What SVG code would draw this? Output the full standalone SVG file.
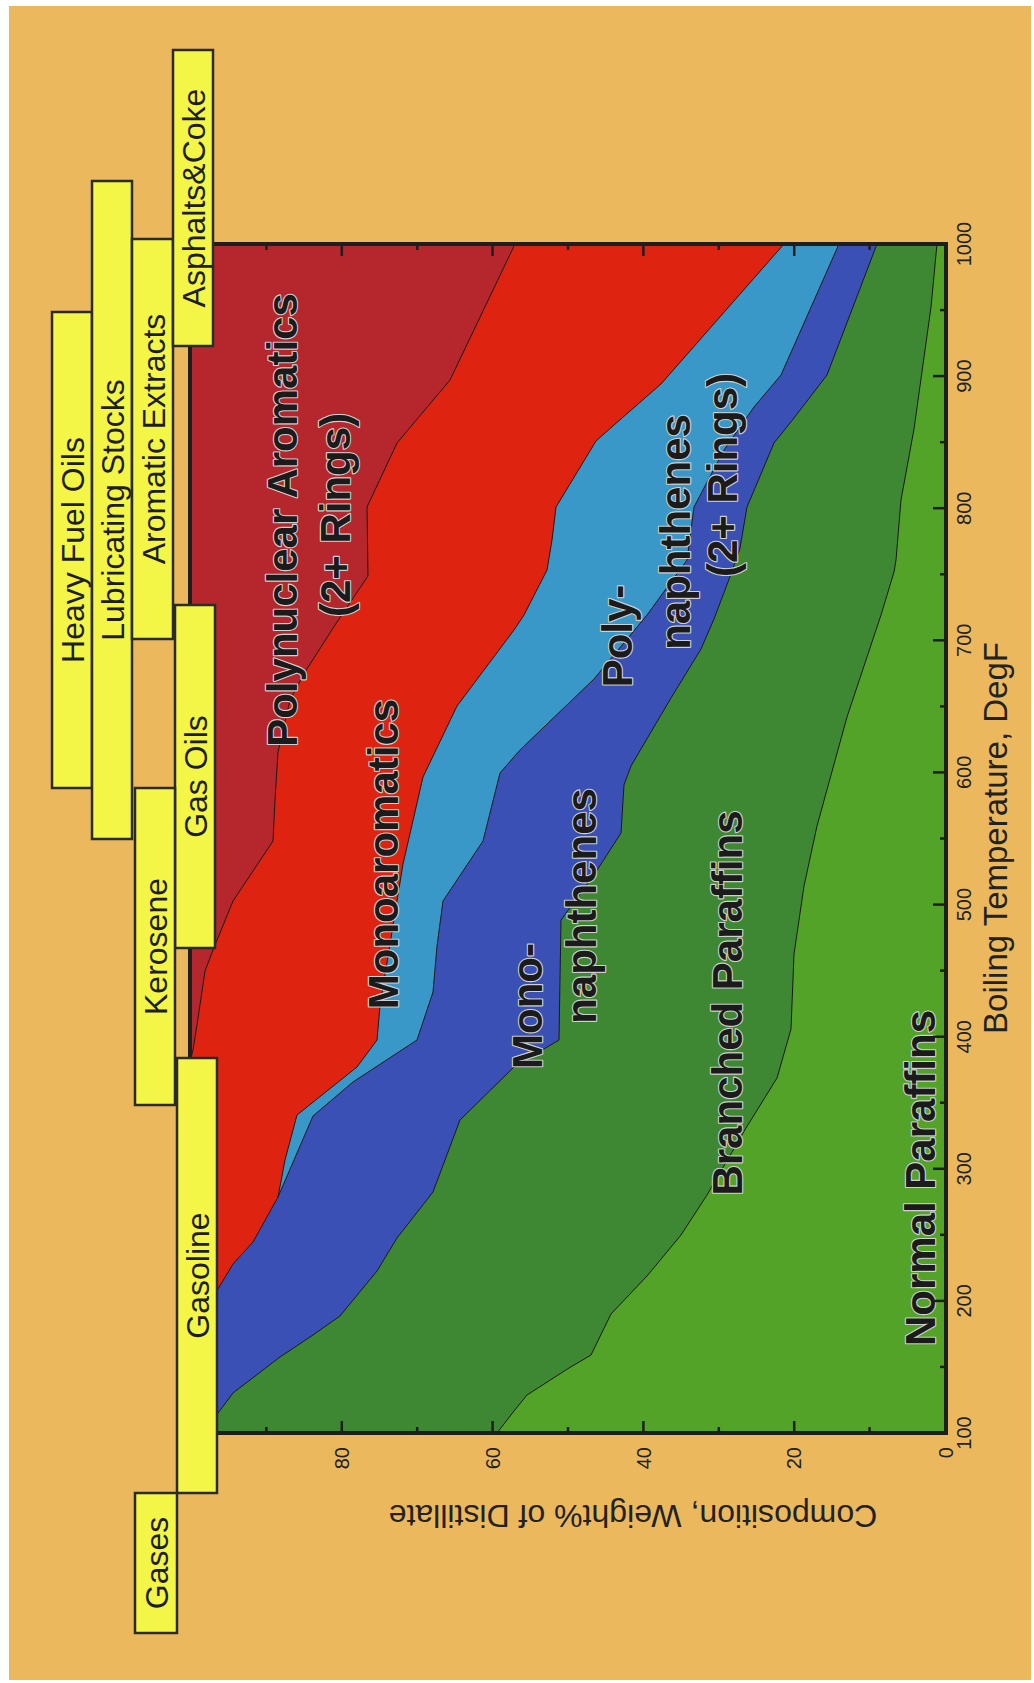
<svg xmlns="http://www.w3.org/2000/svg" width="1034" height="1683" viewBox="0 0 1034 1683">
<style>
.box{fill:#F3F547;stroke:#2b2b2b;stroke-width:2.5}
.bl{font-family:"Liberation Sans",Arial,sans-serif;font-size:32px;fill:#1e1e1e;text-anchor:middle}
.big{font-family:"Liberation Sans",Arial,sans-serif;font-weight:bold;font-size:42px;fill:#1b1b1b;stroke:#d0d0d0;stroke-width:2.2;paint-order:stroke;stroke-linejoin:round;text-anchor:middle}
.tk{font-family:"Liberation Sans",Arial,sans-serif;font-size:20px;fill:#222}
.ax{font-family:"Liberation Sans",Arial,sans-serif;font-size:33px;fill:#222;text-anchor:middle}
.edge{fill:none;stroke:#1a1a1a;stroke-width:1}
.tick{stroke:#1e1e1e;stroke-width:2.5}
</style>
<rect x="0" y="0" width="1034" height="1683" fill="#ffffff"/>
<rect x="9" y="6" width="1022" height="1674" fill="#EBB85E"/>

<g id="plot-regions">
<rect id="polynuclear-area" x="190" y="244" width="756" height="1189" fill="#B5272C"/>
<path id="monoaromatics-area" fill="#DF2311" d="M515,244 L450,380 L397,443 L367,507 L368,576 L335,625 L305,672 L290,700 L278,752 L275,800 L273,841 L233,901 L213,950 L205,971 L197,1025 L193,1050 L190,1062 L190,1433 L946,1433 L946,244 Z"/>
<path id="polynaphthenes-area" fill="#3A98C8" d="M784,244 L661,384 L614,425 L596,441 L556,507 L552,540 L547,570 L524,615 L514,630 L457,706 L423,777 L403,864 L380,1006 L377,1040 L357,1067 L297,1115 L285,1160 L278,1197 L253,1242 L233,1264 L218,1289 L190,1335 L190,1433 L946,1433 L946,244 Z"/>
<path id="mononaphthenes-area" fill="#3A50B4" d="M839,244 L781,375 L754,407 L724,450 L694,507 L687,560 L647,615 L594,679 L520,750 L500,773 L483,841 L443,901 L437,946 L433,992 L417,1040 L353,1082 L313,1116 L278,1197 L253,1242 L233,1264 L218,1289 L190,1335 L190,1433 L946,1433 L946,244 Z"/>
<path id="branched-area" fill="#3E8834" d="M877,244 L827,375 L794,418 L774,443 L747,507 L740,548 L731,574 L714,619 L701,649 L671,698 L631,766 L624,785 L621,833 L594,875 L561,920 L559,1040 L514,1067 L460,1120 L433,1192 L397,1238 L377,1271 L340,1316 L313,1335 L280,1357 L233,1393 L218,1413 L203,1433 L946,1433 L946,244 Z"/>
<path id="normal-area" fill="#52A327" d="M937,244 L931,307 L914,429 L901,500 L896,560 L894,572 L881,615 L847,717 L817,826 L804,886 L794,954 L791,1029 L777,1078 L746,1128 L707,1195 L681,1235 L647,1276 L611,1314 L591,1355 L569,1368 L527,1395 L514,1411 L497,1433 L946,1433 L946,244 Z"/>
</g>

<g id="boundaries">
<polyline class="edge" points="515,244 450,380 397,443 367,507 368,576 335,625 305,672 290,700 278,752 275,800 273,841 233,901 213,950 205,971 197,1025 193,1050 190,1062"/>
<polyline class="edge" points="784,244 661,384 614,425 596,441 556,507 552,540 547,570 524,615 514,630 457,706 423,777 403,864 380,1006 377,1040 357,1067 297,1115 285,1160 278,1197 253,1242 233,1264 218,1289 190,1335"/>
<polyline class="edge" points="839,244 781,375 754,407 724,450 694,507 687,560 647,615 594,679 520,750 500,773 483,841 443,901 437,946 433,992 417,1040 353,1082 313,1116 278,1197"/>
<polyline class="edge" points="877,244 827,375 794,418 774,443 747,507 740,548 731,574 714,619 701,649 671,698 631,766 624,785 621,833 594,875 561,920 559,1040 514,1067 460,1120 433,1192 397,1238 377,1271 340,1316 313,1335 280,1357 233,1393 218,1413 203,1433"/>
<polyline class="edge" points="937,244 931,307 914,429 901,500 896,560 894,572 881,615 847,717 817,826 804,886 794,954 791,1029 777,1078 746,1128 707,1195 681,1235 647,1276 611,1314 591,1355 569,1368 527,1395 514,1411 497,1433"/>
</g>

<g id="region-labels">
<text class="big" transform="translate(297,520) rotate(-90)">Polynuclear Aromatics</text>
<text class="big" transform="translate(350,515) rotate(-90)">(2+ Rings)</text>
<text class="big" transform="translate(398,854) rotate(-90)">Monoaromatics</text>
<text class="big" transform="translate(542,1006) rotate(-90)">Mono-</text>
<text class="big" transform="translate(596,906) rotate(-90)">naphthenes</text>
<text class="big" transform="translate(632,636) rotate(-90)">Poly-</text>
<text class="big" transform="translate(690,532) rotate(-90)">naphthenes</text>
<text class="big" transform="translate(737,475) rotate(-90)">(2+ Rings)</text>
<text class="big" transform="translate(742,1003) rotate(-90)">Branched Paraffins</text>
<text class="big" transform="translate(935,1178) rotate(-90)">Normal Paraffins</text>
</g>

<g id="axes">
<rect x="190" y="244" width="756" height="1189" fill="none" stroke="#1e1e1e" stroke-width="4"/>
<g class="tick">
<line x1="946" y1="1366.9" x2="940" y2="1366.9"/>
<line x1="946" y1="1300.9" x2="933" y2="1300.9"/>
<line x1="946" y1="1234.8" x2="940" y2="1234.8"/>
<line x1="946" y1="1168.8" x2="933" y2="1168.8"/>
<line x1="946" y1="1102.7" x2="940" y2="1102.7"/>
<line x1="946" y1="1036.7" x2="933" y2="1036.7"/>
<line x1="946" y1="970.6" x2="940" y2="970.6"/>
<line x1="946" y1="904.6" x2="933" y2="904.6"/>
<line x1="946" y1="838.5" x2="940" y2="838.5"/>
<line x1="946" y1="772.4" x2="933" y2="772.4"/>
<line x1="946" y1="706.4" x2="940" y2="706.4"/>
<line x1="946" y1="640.3" x2="933" y2="640.3"/>
<line x1="946" y1="574.3" x2="940" y2="574.3"/>
<line x1="946" y1="508.2" x2="933" y2="508.2"/>
<line x1="946" y1="442.2" x2="940" y2="442.2"/>
<line x1="946" y1="376.1" x2="933" y2="376.1"/>
<line x1="946" y1="310.1" x2="940" y2="310.1"/>
<line x1="869.6" y1="1433" x2="869.6" y2="1427"/>
<line x1="794.2" y1="1433" x2="794.2" y2="1421"/>
<line x1="718.8" y1="1433" x2="718.8" y2="1427"/>
<line x1="643.4" y1="1433" x2="643.4" y2="1421"/>
<line x1="568" y1="1433" x2="568" y2="1427"/>
<line x1="492.6" y1="1433" x2="492.6" y2="1421"/>
<line x1="417.2" y1="1433" x2="417.2" y2="1427"/>
<line x1="341.8" y1="1433" x2="341.8" y2="1421"/>
<line x1="266.4" y1="1433" x2="266.4" y2="1427"/>
<line x1="869.6" y1="244" x2="869.6" y2="250"/>
<line x1="794.2" y1="244" x2="794.2" y2="256"/>
<line x1="718.8" y1="244" x2="718.8" y2="250"/>
<line x1="643.4" y1="244" x2="643.4" y2="256"/>
<line x1="568" y1="244" x2="568" y2="250"/>
<line x1="492.6" y1="244" x2="492.6" y2="256"/>
<line x1="417.2" y1="244" x2="417.2" y2="250"/>
<line x1="341.8" y1="244" x2="341.8" y2="256"/>
<line x1="266.4" y1="244" x2="266.4" y2="250"/>
</g>
<g class="tk" text-anchor="middle">
<text transform="translate(971,1433) rotate(-90)">100</text>
<text transform="translate(971,1300.9) rotate(-90)">200</text>
<text transform="translate(971,1168.8) rotate(-90)">300</text>
<text transform="translate(971,1036.7) rotate(-90)">400</text>
<text transform="translate(971,904.6) rotate(-90)">500</text>
<text transform="translate(971,772.4) rotate(-90)">600</text>
<text transform="translate(971,640.3) rotate(-90)">700</text>
<text transform="translate(971,508.2) rotate(-90)">800</text>
<text transform="translate(971,376.1) rotate(-90)">900</text>
<text transform="translate(971,244) rotate(-90)">1000</text>
</g>
<g class="tk" text-anchor="end">
<text transform="translate(349,1447) rotate(-90)">80</text>
<text transform="translate(500,1447) rotate(-90)">60</text>
<text transform="translate(651,1447) rotate(-90)">40</text>
<text transform="translate(801,1447) rotate(-90)">20</text>
<text transform="translate(953,1447) rotate(-90)">0</text>
</g>
<text class="ax" transform="translate(1007,838) rotate(-90)">Boiling Temperature, DegF</text>
<text class="ax" style="font-size:32px" transform="translate(633,1505) rotate(180)">Composition, Weight% of Distillate</text>
</g>

<g id="node-heavy-fuel-oils"><rect class="box" x="52" y="312" width="40" height="476"/><text class="bl" transform="translate(84,550) rotate(-90)">Heavy Fuel Oils</text></g>
<g id="node-lubricating-stocks"><rect class="box" x="92" y="181" width="40" height="658"/><text class="bl" transform="translate(124,510) rotate(-90)">Lubricating Stocks</text></g>
<g id="node-aromatic-extracts"><rect class="box" x="132" y="239" width="41" height="400"/><text class="bl" transform="translate(165,439) rotate(-90)">Aromatic Extracts</text></g>
<g id="node-asphalts-coke"><rect class="box" x="173" y="50" width="40" height="296"/><text class="bl" transform="translate(205,198) rotate(-90)">Asphalts&amp;Coke</text></g>
<g id="node-gas-oils"><rect class="box" x="175" y="605" width="40" height="343"/><text class="bl" transform="translate(207,776.5) rotate(-90)">Gas Oils</text></g>
<g id="node-kerosene"><rect class="box" x="135" y="788" width="40" height="317"/><text class="bl" transform="translate(167,946.5) rotate(-90)">Kerosene</text></g>
<g id="node-gasoline"><rect class="box" x="177" y="1058" width="40" height="435"/><text class="bl" transform="translate(209,1275.5) rotate(-90)">Gasoline</text></g>
<g id="node-gases"><rect class="box" x="135" y="1493" width="42" height="140"/><text class="bl" transform="translate(168,1563) rotate(-90)">Gases</text></g>
</svg>
